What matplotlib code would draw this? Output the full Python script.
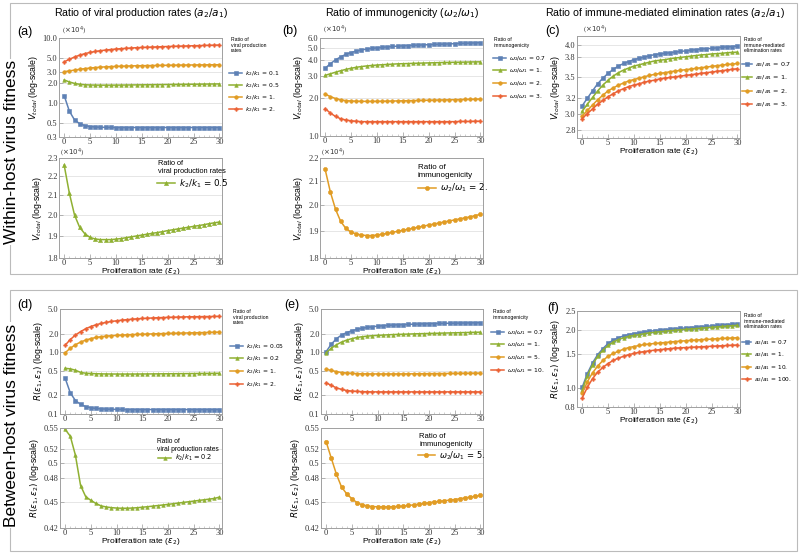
import matplotlib
matplotlib.use("Agg")
import matplotlib.pyplot as plt
from matplotlib.patches import Rectangle
from matplotlib.ticker import FixedLocator, FixedFormatter, NullLocator, MultipleLocator

W, H = 800, 554

# proliferation rate eps2 (x axis of every panel)
eps2 = list(range(31))

# ---- within-host: V_total (x10^4) ----
v_ratio1 = [3.03, 3.12, 3.21, 3.30, 3.38, 3.45, 3.51, 3.56, 3.60, 3.63, 3.66, 3.68, 3.70, 3.72, 3.74, 3.75,
            3.76, 3.775, 3.785, 3.795, 3.805, 3.815, 3.825, 3.835, 3.84, 3.85, 3.855, 3.86, 3.87, 3.875, 3.88]
v_a_k01 = [1.30, 0.75, 0.55, 0.48, 0.45, 0.435, 0.428, 0.424, 0.422, 0.421, 0.42, 0.42, 0.42, 0.42, 0.42, 0.42,
           0.42, 0.42, 0.42, 0.42, 0.42, 0.42, 0.42, 0.42, 0.42, 0.42, 0.42, 0.42, 0.42, 0.42, 0.42]
v_a_k05 = [2.26, 2.11, 2.00, 1.94, 1.91, 1.893, 1.886, 1.883, 1.883, 1.883, 1.885, 1.888, 1.892, 1.896, 1.900, 1.904,
           1.908, 1.912, 1.916, 1.920, 1.925, 1.929, 1.933, 1.937, 1.941, 1.945, 1.949, 1.953, 1.958, 1.962, 1.966]
v_a_k2 = [4.3, 4.7, 5.1, 5.45, 5.75, 6.0, 6.2, 6.38, 6.52, 6.65, 6.76, 6.86, 6.94, 7.02, 7.09, 7.15,
          7.2, 7.25, 7.3, 7.35, 7.4, 7.44, 7.48, 7.52, 7.56, 7.6, 7.64, 7.68, 7.72, 7.76, 7.8]
v_b_w07 = [3.45, 3.75, 4.02, 4.25, 4.45, 4.6, 4.72, 4.82, 4.9, 4.96, 5.01, 5.06, 5.1, 5.14, 5.17, 5.2,
           5.23, 5.25, 5.27, 5.29, 5.31, 5.33, 5.35, 5.37, 5.39, 5.41, 5.43, 5.45, 5.47, 5.49, 5.51]
v_b_w2 = [2.15, 2.055, 1.985, 1.937, 1.91, 1.896, 1.889, 1.885, 1.883, 1.883, 1.885, 1.888, 1.891, 1.895, 1.899, 1.903,
          1.907, 1.911, 1.915, 1.919, 1.923, 1.927, 1.931, 1.935, 1.939, 1.943, 1.947, 1.951, 1.955, 1.96, 1.965]
v_b_w3 = [1.65, 1.52, 1.43, 1.37, 1.34, 1.32, 1.31, 1.30, 1.30, 1.30, 1.30, 1.30, 1.30, 1.30, 1.30, 1.30,
          1.30, 1.30, 1.30, 1.30, 1.30, 1.30, 1.30, 1.30, 1.30, 1.30, 1.305, 1.305, 1.305, 1.31, 1.31]
v_c_a07 = [3.10, 3.20, 3.30, 3.40, 3.48, 3.55, 3.61, 3.66, 3.70, 3.73, 3.76, 3.78, 3.80, 3.82, 3.84, 3.85,
           3.86, 3.87, 3.88, 3.89, 3.90, 3.91, 3.92, 3.93, 3.935, 3.94, 3.95, 3.96, 3.965, 3.97, 3.98]
v_c_a2 = [2.97, 3.04, 3.11, 3.18, 3.24, 3.30, 3.34, 3.38, 3.41, 3.44, 3.46, 3.48, 3.50, 3.52, 3.535, 3.55,
          3.56, 3.575, 3.585, 3.595, 3.605, 3.615, 3.625, 3.635, 3.645, 3.655, 3.665, 3.675, 3.685, 3.69, 3.70]
v_c_a3 = [2.94, 3.00, 3.06, 3.12, 3.17, 3.22, 3.26, 3.30, 3.33, 3.36, 3.38, 3.40, 3.42, 3.44, 3.45, 3.47,
          3.48, 3.49, 3.50, 3.51, 3.52, 3.53, 3.54, 3.55, 3.56, 3.57, 3.58, 3.59, 3.60, 3.61, 3.62]

# ---- between-host: R(eps1, eps2) ----
r_ratio1 = [0.98, 1.16, 1.32, 1.46, 1.57, 1.66, 1.73, 1.78, 1.82, 1.85, 1.87, 1.89, 1.91, 1.93, 1.94, 1.955,
            1.965, 1.98, 1.99, 2.00, 2.01, 2.02, 2.03, 2.04, 2.05, 2.06, 2.07, 2.08, 2.09, 2.10, 2.11]
r_d_k005 = [0.38, 0.22, 0.165, 0.143, 0.132, 0.126, 0.123, 0.121, 0.12, 0.119, 0.119, 0.1185, 0.118, 0.118, 0.118, 0.118,
            0.118, 0.118, 0.118, 0.118, 0.118, 0.118, 0.118, 0.118, 0.118, 0.118, 0.118, 0.118, 0.118, 0.118, 0.118]
r_d_k02 = [0.548, 0.538, 0.511, 0.471, 0.457, 0.4525, 0.4487, 0.4458, 0.4445, 0.4437, 0.4432, 0.4430, 0.4430, 0.4432,
           0.4436, 0.4442, 0.4448, 0.4455, 0.4462, 0.4469, 0.4476, 0.4484, 0.4492, 0.4500, 0.4508, 0.4516, 0.4524,
           0.4532, 0.4540, 0.4548, 0.4565]
r_d_k2 = [1.3, 1.6, 1.9, 2.15, 2.4, 2.6, 2.78, 2.92, 3.04, 3.14, 3.22, 3.3, 3.36, 3.42, 3.47, 3.51,
          3.55, 3.58, 3.61, 3.64, 3.66, 3.68, 3.70, 3.72, 3.74, 3.75, 3.76, 3.77, 3.78, 3.79, 3.8]
r_e_w07 = [1.02, 1.35, 1.65, 1.9, 2.08, 2.22, 2.34, 2.44, 2.52, 2.58, 2.64, 2.68, 2.72, 2.75, 2.78, 2.8,
           2.82, 2.84, 2.86, 2.88, 2.9, 2.91, 2.92, 2.93, 2.94, 2.95, 2.96, 2.97, 2.98, 2.99, 3.0]
r_e_w5 = [0.530, 0.507, 0.4855, 0.469, 0.4605, 0.4545, 0.4497, 0.447, 0.4458, 0.4450, 0.4447, 0.4446, 0.4446,
          0.4448, 0.4451, 0.4455, 0.4463, 0.4470, 0.4478, 0.4487, 0.4497, 0.4505, 0.4513, 0.4520, 0.4528, 0.4535,
          0.4545, 0.4555, 0.4565, 0.4575, 0.4585]
r_e_w10 = [0.32, 0.29, 0.265, 0.25, 0.24, 0.235, 0.232, 0.23, 0.229, 0.228, 0.228, 0.228, 0.228, 0.228, 0.228, 0.228,
           0.228, 0.228, 0.228, 0.228, 0.228, 0.228, 0.228, 0.228, 0.228, 0.228, 0.228, 0.228, 0.228, 0.228, 0.228]
r_f_a07 = [1.01, 1.19, 1.35, 1.49, 1.60, 1.70, 1.77, 1.82, 1.86, 1.89, 1.91, 1.93, 1.95, 1.965, 1.98, 1.99,
           2.00, 2.015, 2.025, 2.035, 2.045, 2.055, 2.065, 2.075, 2.085, 2.095, 2.105, 2.115, 2.125, 2.135, 2.145]
r_f_a10 = [0.94, 1.08, 1.20, 1.30, 1.39, 1.46, 1.51, 1.55, 1.59, 1.62, 1.64, 1.66, 1.68, 1.69, 1.70, 1.71,
           1.72, 1.73, 1.74, 1.75, 1.755, 1.765, 1.77, 1.78, 1.785, 1.79, 1.80, 1.805, 1.81, 1.815, 1.82]
r_f_a100 = [0.89, 1.01, 1.12, 1.21, 1.28, 1.34, 1.39, 1.43, 1.46, 1.49, 1.51, 1.53, 1.545, 1.56, 1.57, 1.58,
            1.59, 1.60, 1.61, 1.615, 1.62, 1.625, 1.63, 1.635, 1.64, 1.645, 1.65, 1.655, 1.66, 1.665, 1.67]

BLUE, GREEN, ORANGE, RED = "#5E81B5", "#8FB032", "#E19C24", "#EB6235"
STYLE = {BLUE: "s", GREEN: "^", ORANGE: "o", RED: "P"}
SANS = "Liberation Sans"
SERIF = "Liberation Serif"

fig = plt.figure(figsize=(W / 100, H / 100), dpi=100)


def px(x, y):
    return (x / W, 1 - y / H)


def add_ax(x0, y0, x1, y1):
    return fig.add_axes([x0 / W, 1 - y1 / H, (x1 - x0) / W, (y1 - y0) / H])


def style(ax, ylim, yticks, ylabels, ylabel, xlabel=False):
    ax.set_yscale("log")
    ax.set_ylim(*ylim)
    ax.set_xlim(-1, 30.5)
    ax.yaxis.set_major_locator(FixedLocator(yticks))
    ax.yaxis.set_major_formatter(FixedFormatter(ylabels))
    ax.yaxis.set_minor_locator(NullLocator())
    ax.xaxis.set_major_locator(FixedLocator([0, 5, 10, 15, 20, 25, 30]))
    ax.xaxis.set_minor_locator(MultipleLocator(1))
    ax.tick_params(direction="in", labelsize=6, pad=1, length=3, width=0.5,
                   color="#999999", labelcolor="#333333", labelfontfamily=SERIF)
    ax.tick_params(axis="x", pad=0.5)
    ax.tick_params(which="minor", direction="in", length=1.5, width=0.4, color="#aaaaaa")
    ax.grid(axis="y", which="major", color="#e2e2e2", lw=0.6)
    ax.set_axisbelow(True)
    for s in ax.spines.values():
        s.set_color("#a0a0a0")
        s.set_linewidth(0.7)
    ax.set_ylabel(ylabel, fontsize=6.3, family=SANS, labelpad=2)
    if xlabel:
        ax.set_xlabel(r"Proliferation rate ($\varepsilon_2$)", fontsize=6, family=SANS, labelpad=-0.5)


def draw(ax, series, labels, ms=2.6):
    for (vals, c), lab in zip(series, labels):
        ax.plot(eps2, vals, color=c, marker=STYLE[c], ms=ms, lw=1.1, mew=0.4, label=lab)


def side_legend(ax, title, tx, ty, lx, ly, tfs=3.7, fs=4.3, spacing=0.65, hl=2.2):
    fig.text(*px(tx, ty), title, fontsize=tfs, family=SANS, va="top", ha="left", linespacing=1.15)
    ax.legend(loc="upper left", bbox_to_anchor=px(lx, ly), bbox_transform=fig.transFigure,
              frameon=False, fontsize=fs, handlelength=hl, handletextpad=0.4,
              labelspacing=spacing, borderpad=0, borderaxespad=0)


def inner_legend(ax, title, tx, ty, lx, ly, tfs, lfs):
    fig.text(*px(tx, ty), title, fontsize=tfs, family=SANS, va="top", ha="left", linespacing=1.2)
    ax.legend(loc="upper left", bbox_to_anchor=px(lx, ly), bbox_transform=fig.transFigure,
              frameon=False, fontsize=lfs, handlelength=2.0, handletextpad=0.5,
              borderpad=0, borderaxespad=0)


def x10(x, y):
    fig.text(*px(x, y), r"($\times10^4$)", fontsize=5, family=SERIF, color="#333333", va="center")


VLAB = r"$V_{total}$ (log-scale)"
RLAB = r"$R(\varepsilon_1, \varepsilon_2)$ (log-scale)"

# row frames and row titles
fig.patches.append(Rectangle(px(10, 274), 787 / W, 271 / H, transform=fig.transFigure,
                             fill=False, ec="#bbbbbb", lw=0.8))
fig.patches.append(Rectangle(px(10, 551), 787 / W, 261 / H, transform=fig.transFigure,
                             fill=False, ec="#bbbbbb", lw=0.8))
fig.text(*px(12, 152), "Within-host virus fitness", rotation=90, fontsize=12.5, family=SANS,
         ha="center", va="center", bbox=dict(fc="white", ec="none", pad=1))
fig.text(*px(12, 425), "Between-host virus fitness", rotation=90, fontsize=12.5, family=SANS,
         ha="center", va="center", bbox=dict(fc="white", ec="none", pad=1))

fig.text(*px(141, 13), r"Ratio of viral production rates ($a_2/a_1$)", fontsize=7.6, family=SANS,
         ha="center", va="center")
fig.text(*px(402, 13), r"Ratio of immunogenicity ($\omega_2/\omega_1$)", fontsize=7.6, family=SANS,
         ha="center", va="center")
fig.text(*px(665, 13), r"Ratio of immune-mediated elimination rates ($a_2/a_1$)", fontsize=7.6,
         family=SANS, ha="center", va="center")

for lab, (x, y) in zip(["(a)", "(b)", "(c)", "(d)", "(e)", "(f)"],
                       [(25, 32), (290, 31), (553, 31), (25, 305), (292, 305), (553, 308)]):
    fig.text(*px(x, y), lab, fontsize=9, family=SANS, ha="center", va="center")

# ---------- (a) ----------
ax = add_ax(59, 38, 222, 137)
draw(ax, [(v_a_k01, BLUE), (v_a_k05, GREEN), (v_ratio1, ORANGE), (v_a_k2, RED)],
     [r"$k_2/k_1$ = 0.1", r"$k_2/k_1$ = 0.5", r"$k_2/k_1$ = 1.", r"$k_2/k_1$ = 2."])
style(ax, (0.3, 10.0), [0.3, 0.5, 1, 2, 3, 5, 10], ["0.3", "0.5", "1.0", "2.0", "3.0", "5.0", "10.0"], VLAB)
x10(62, 31)
side_legend(ax, "Ratio of\nviral production\nrates", 231, 37, 229, 69, spacing=0.53)

ax = add_ax(59, 158, 222, 258)
draw(ax, [(v_a_k05, GREEN)], [r"$k_2/k_1$ = 0.5"], ms=3)
style(ax, (1.8, 2.3), [1.8, 1.9, 2.0, 2.1, 2.2, 2.3], ["1.8", "1.9", "2.0", "2.1", "2.2", "2.3"], VLAB, True)
x10(60, 153)
inner_legend(ax, "Ratio of\nviral production rates", 158, 160, 157, 177, 5.3, 6.3)

# ---------- (b) ----------
ax = add_ax(320, 38, 483, 136)
draw(ax, [(v_b_w07, BLUE), (v_ratio1, GREEN), (v_b_w2, ORANGE), (v_b_w3, RED)],
     [r"$\omega_2/\omega_1$ = 0.7", r"$\omega_2/\omega_1$ = 1.", r"$\omega_2/\omega_1$ = 2.",
      r"$\omega_2/\omega_1$ = 3."])
style(ax, (1.0, 6.0), [1, 2, 3, 4, 5, 6], ["1.0", "2.0", "3.0", "4.0", "5.0", "6.0"], VLAB)
x10(323, 30)
side_legend(ax, "Ratio of\nimmunogenicity", 494, 37, 493, 54)

ax = add_ax(320, 158, 483, 258)
draw(ax, [(v_b_w2, ORANGE)], [r"$\omega_2/\omega_1$ = 2."], ms=3)
style(ax, (1.8, 2.2), [1.8, 1.9, 2.0, 2.1, 2.2], ["1.8", "1.9", "2.0", "2.1", "2.2"], VLAB, True)
x10(321, 153)
inner_legend(ax, "Ratio of\nimmunogenicity", 418, 164, 418, 182, 5.8, 6.3)

# ---------- (c) ----------
ax = add_ax(577, 36, 740, 138)
draw(ax, [(v_c_a07, BLUE), (v_ratio1, GREEN), (v_c_a2, ORANGE), (v_c_a3, RED)],
     [r"$a_2/a_1$ = 0.7", r"$a_2/a_1$ = 1.", r"$a_2/a_1$ = 2.", r"$a_2/a_1$ = 3."])
style(ax, (2.71, 4.15), [2.8, 3.0, 3.2, 3.5, 3.8, 4.0], ["2.8", "3.0", "3.2", "3.5", "3.8", "4.0"], VLAB, True)
x10(583, 30)
side_legend(ax, "Ratio of\nimmune-mediated\nelimination rates", 744, 37, 742, 60,
            fs=4.6, spacing=0.74, hl=1.6)

# ---------- (d) ----------
ax = add_ax(60, 309, 222, 414)
draw(ax, [(r_d_k005, BLUE), (r_d_k02, GREEN), (r_ratio1, ORANGE), (r_d_k2, RED)],
     [r"$k_2/k_1$ = 0.05", r"$k_2/k_1$ = 0.2", r"$k_2/k_1$ = 1.", r"$k_2/k_1$ = 2."])
style(ax, (0.1, 5.0), [0.1, 0.2, 0.5, 1, 2, 5], ["0.1", "0.2", "0.5", "1.0", "2.0", "5.0"], RLAB)
side_legend(ax, "Ratio of\nviral production\nrates", 233, 309, 230, 342)

ax = add_ax(60, 428, 222, 528)
draw(ax, [(r_d_k02, GREEN)], [r"$k_2/k_1$ = 0.2"], ms=2.6)
style(ax, (0.42, 0.55), [0.42, 0.45, 0.48, 0.5, 0.52, 0.55],
      ["0.42", "0.45", "0.48", "0.5", "0.52", "0.55"], RLAB, True)
inner_legend(ax, "Ratio of\nviral production rates", 157, 438, 158, 453, 4.8, 4.8)

# ---------- (e) ----------
ax = add_ax(321, 309, 483, 414)
draw(ax, [(r_e_w07, BLUE), (r_ratio1, GREEN), (r_e_w5, ORANGE), (r_e_w10, RED)],
     [r"$\omega_2/\omega_1$ = 0.7", r"$\omega_2/\omega_1$ = 1.", r"$\omega_2/\omega_1$ = 5.",
      r"$\omega_2/\omega_1$ = 10."])
style(ax, (0.1, 5.0), [0.1, 0.2, 0.5, 1, 2, 5], ["0.1", "0.2", "0.5", "1.0", "2.0", "5.0"], RLAB)
side_legend(ax, "Ratio of\nimmunogenicity", 493, 309, 491, 328)

ax = add_ax(321, 428, 483, 528)
draw(ax, [(r_e_w5, ORANGE)], [r"$\omega_2/\omega_1$ = 5."], ms=3.2)
style(ax, (0.42, 0.55), [0.42, 0.45, 0.48, 0.5, 0.52, 0.55],
      ["0.42", "0.45", "0.48", "0.5", "0.52", "0.55"], RLAB, True)
inner_legend(ax, "Ratio of\nimmunogenicity", 419, 433, 418, 449, 5.5, 6)

# ---------- (f) ----------
ax = add_ax(577, 311, 740, 407)
draw(ax, [(r_f_a07, BLUE), (r_ratio1, GREEN), (r_f_a10, ORANGE), (r_f_a100, RED)],
     [r"$a_2/a_1$ = 0.7", r"$a_2/a_1$ = 1.", r"$a_2/a_1$ = 10.", r"$a_2/a_1$ = 100."])
style(ax, (0.8, 2.5), [0.8, 1.0, 1.5, 2.0, 2.5], ["0.8", "1.0", "1.5", "2.0", "2.5"], RLAB, True)
side_legend(ax, "Ratio of\nimmune-mediated\nelimination rates", 744, 313, 742, 338,
            fs=4.2, spacing=0.64, hl=1.6)

fig.savefig("out.png", dpi=100)
